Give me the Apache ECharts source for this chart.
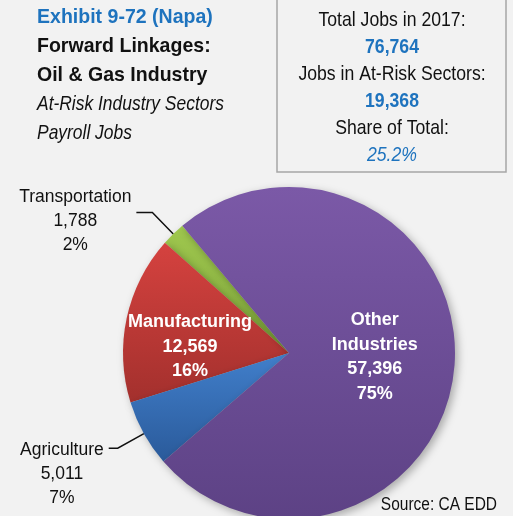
<!DOCTYPE html>
<html>
<head>
<meta charset="utf-8">
<script src="https://cdn.jsdelivr.net/npm/echarts@6/dist/echarts.min.js"></script>
<style>
  html, body { margin: 0; padding: 0; background: #F2F2F2; }
  #main { width: 513px; height: 516px; }
</style>
</head>
<body>
<div id="main"></div>
<script>
// pie data (payroll jobs, at-risk sectors + rest)
var categories = ['Transportation', 'Manufacturing', 'Agriculture', 'Other Industries'];
var jobs = [1788, 12569, 5011, 57396];
var year = 2017;

var titleLines = ['Exhibit 9-72 (Napa)', 'Forward Linkages:', 'Oil & Gas Industry', 'At-Risk Industry Sectors', 'Payroll Jobs'];

var FONT = '"Liberation Sans", Arial, sans-serif';

// slice colours, top -> bottom of the gradient
var sliceColors = {
  'Transportation': ['#9FC74E', '#80A83B'],
  'Manufacturing': ['#D5423F', '#A3302D'],
  'Agriculture': ['#417FCB', '#2A5A9A'],
  'Other Industries': ['#7B59A7', '#5D4285']
};

// nudges for the labels drawn inside the slices
var insideShift = {
  'Manufacturing': [-15, 12],
  'Other Industries': [0, -3]
};

function fmt(n) {
  return n.toLocaleString('en-US');
}

var total = jobs.reduce(function (a, b) { return a + b; }, 0);
var atRisk = 0;
for (var i = 0; i < categories.length; i++) {
  if (categories[i] != 'Other Industries') atRisk += jobs[i];
}
var share = (atRisk / total * 100).toFixed(1) + '%';

var pieData = categories.map(function (name, i) {
  var c = sliceColors[name];
  var item = {
    name: name,
    value: jobs[i],
    itemStyle: {
      color: new echarts.graphic.LinearGradient(0, 0, 0, 1, [
        { offset: 0, color: c[0] },
        { offset: 1, color: c[1] }
      ])
    }
  };
  if (insideShift[name]) {
    item.label = {
      position: 'inside',
      color: '#fff',
      fontWeight: 'bold',
      fontSize: 18,
      lineHeight: 24.5,
      fontFamily: FONT,
      align: 'center',
      formatter: function (p) {
        return p.name.replace(' ', '\n') + '\n' + fmt(p.value) + '\n' + p.percent + '%';
      }
    };
    item.labelLine = { show: false };
  } else {
    item.label = {
      position: 'outside',
      color: '#111',
      fontSize: 17.5,
      fontFamily: FONT,
      formatter: function (p) {
        return '{a|' + p.name + '}\n{a|' + fmt(p.value) + '}\n{a|' + p.percent + '%}';
      },
      rich: {
        a: { align: 'center', fontSize: 17.5, lineHeight: 24, fontFamily: FONT, color: '#111' }
      },
      padding: name == 'Agriculture' ? [52, 0, 0, 0] : [18, 0, 0, 0]
    };
    item.labelLine = {
      show: true,
      length: 30,
      length2: name == 'Agriculture' ? 9 : 16,
      lineStyle: { color: '#111', width: 1.5 }
    };
  }
  return item;
});

var graphics = [];
// title block, upper left
titleLines.forEach(function (t, i) {
  var isHead = i == 0;
  var bold = i < 3;
  graphics.push({
    type: 'text',
    x: 37,
    y: 17 + i * 29,
    scaleX: bold ? 0.93 : 0.83,
    style: {
      text: t,
      fill: isHead ? '#1E73BE' : '#111',
      font: (i >= 3 ? 'italic ' : '') + (bold ? 'bold ' : '') + '21px ' + FONT,
      align: 'left',
      verticalAlign: 'middle'
    }
  });
});

// summary box, upper right
graphics.push({
  type: 'rect',
  shape: { x: 277, y: -2, width: 229, height: 174 },
  style: { fill: '#F2F2F2', stroke: '#A6A6A6', lineWidth: 1.5 }
});
var boxLines = [
  ['Total Jobs in ' + year + ':', 'normal', '#111'],
  [fmt(total), 'bold', '#1E73BE'],
  ['Jobs in At-Risk Sectors:', 'normal', '#111'],
  [fmt(atRisk), 'bold', '#1E73BE'],
  ['Share of Total:', 'normal', '#111'],
  [share, 'italic', '#1E73BE']
];
boxLines.forEach(function (b, i) {
  graphics.push({
    type: 'text',
    x: 392,
    y: 20 + i * 27,
    scaleX: 0.84,
    style: {
      text: b[0],
      fill: b[2],
      font: b[1] + ' 21px ' + FONT,
      align: 'center',
      verticalAlign: 'middle'
    }
  });
});

graphics.push({
  type: 'text',
  x: 497,
  y: 505,
  scaleX: 0.86,
  style: {
    text: 'Source: CA EDD',
    fill: '#111',
    font: '18px ' + FONT,
    align: 'right',
    verticalAlign: 'middle'
  }
});

var myChart = echarts.init(document.getElementById('main'), null, { renderer: 'canvas' });
var option = {
  backgroundColor: '#F2F2F2',
  animation: false,
  graphic: graphics,
  series: [{
    type: 'pie',
    center: [289, 353],
    radius: 166,
    startAngle: 130,
    clockwise: false,
    percentPrecision: 0,
    avoidLabelOverlap: false,
    silent: true,
    itemStyle: {
      borderWidth: 0,
      shadowBlur: 8,
      shadowOffsetX: 3,
      shadowOffsetY: 3,
      shadowColor: 'rgba(0,0,0,0.3)'
    },
    label: { distanceToLabelLine: 5 },
    labelLayout: function (p) {
      var s = insideShift[categories[p.dataIndex]];
      if (s) return { dx: s[0], dy: s[1] };
    },
    data: pieData
  }]
};
myChart.setOption(option);
</script>
</body>
</html>
